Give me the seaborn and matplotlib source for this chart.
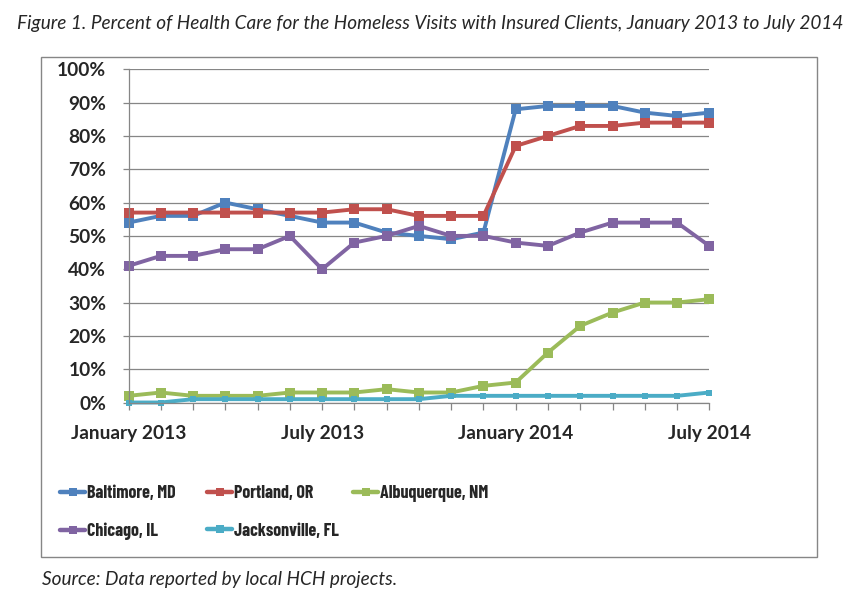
import matplotlib
matplotlib.use("Agg")
import matplotlib.pyplot as plt
from matplotlib.lines import Line2D
from matplotlib.patches import Rectangle
import seaborn as sns
import pandas as pd

# ---- data ----
months = list(range(19))  # Jan 2013 .. Jul 2014
tick_labels = ["January 2013", "", "", "", "", "", "July 2013", "", "", "", "", "",
               "January 2014", "", "", "", "", "", "July 2014"]
baltimore = [54, 56, 56, 60, 58, 56, 54, 54, 51, 50, 49, 51, 88, 89, 89, 89, 87, 86, 87]
portland = [57, 57, 57, 57, 57, 57, 57, 58, 58, 56, 56, 56, 77, 80, 83, 83, 84, 84, 84]
albuquerque = [2, 3, 2, 2, 2, 3, 3, 3, 4, 3, 3, 5, 6, 15, 23, 27, 30, 30, 31]
chicago = [41, 44, 44, 46, 46, 50, 40, 48, 50, 53, 50, 50, 48, 47, 51, 54, 54, 54, 47]
jacksonville = [0, 0, 1, 1, 1, 1, 1, 1, 1, 1, 2, 2, 2, 2, 2, 2, 2, 2, 3]

cities = ["Baltimore, MD", "Portland, OR", "Albuquerque, NM", "Chicago, IL", "Jacksonville, FL"]
series = [baltimore, portland, albuquerque, chicago, jacksonville]
colors = ["#4F81BD", "#C0504D", "#9BBB59", "#8064A2", "#4BACC6"]
msizes = [7, 7, 7, 7, 5]

rows = []
for c, vals in zip(cities, series):
    for m, v in zip(months, vals):
        rows.append({"city": c, "month": m, "value": v / 100})
df = pd.DataFrame(rows)

sns.set_theme(style="white")
plt.rcParams["font.family"] = ["Lato", "DejaVu Sans"]

W, H = 862, 614
fig = plt.figure(figsize=(W / 100, H / 100), dpi=100)
ax = fig.add_axes([128.5 / W, 1 - 402.5 / H, (709.3 - 128.5) / W, (402.5 - 69.3) / H])

grid_c = "#868686"
for c, col, ms in zip(cities, colors, msizes):
    sns.lineplot(data=df[df.city == c], x="month", y="value", color=col, ax=ax,
                 marker="s", markersize=ms, markeredgewidth=0, linewidth=2.8,
                 legend=False, clip_on=False)

ax.set_xlim(0, 18)
ax.set_ylim(0, 1)
ax.set_yticks([i / 10 for i in range(11)])
ax.set_yticklabels([f"{i * 10}%" for i in range(11)], fontsize=13.8, fontweight="bold")
ax.set_xticks(months)
ax.set_xticklabels(tick_labels, fontsize=13.8, fontweight="bold")
ax.set_xlabel("")
ax.set_ylabel("")
ax.yaxis.grid(True, color=grid_c, linewidth=0.9)
ax.xaxis.grid(False)
ax.set_axisbelow(True)
for s in ["top", "right"]:
    ax.spines[s].set_visible(False)
for s in ["left", "bottom"]:
    ax.spines[s].set_color(grid_c)
    ax.spines[s].set_linewidth(0.9)
ax.tick_params(axis="y", length=4, width=0.9, color=grid_c, pad=12, left=True)
ax.tick_params(axis="x", length=5, width=0.9, color=grid_c, pad=11, bottom=True)

# outer border
fig.patches.append(Rectangle((41 / W, 1 - 557 / H), (817 - 41) / W, (557 - 57) / H,
                             transform=fig.transFigure, fill=False,
                             edgecolor=grid_c, linewidth=1))

# title & source
fig.text(17 / W, 1 - 23 / H,
         "Figure 1. Percent of Health Care for the Homeless Visits with Insured Clients, January 2013 to July 2014",
         fontsize=13.7, style="italic", ha="left", va="center")
fig.text(42 / W, 1 - 580 / H, "Source: Data reported by local HCH projects.",
         fontsize=13.7, style="italic", ha="left", va="center")

# legend: one legend per column so columns sit at fixed positions
handles = {c: Line2D([0], [0], color=col, lw=3.2, marker="s", markersize=6, markeredgewidth=0)
           for c, col in zip(cities, colors)}
columns = [["Baltimore, MD", "Chicago, IL"], ["Portland, OR", "Jacksonville, FL"], ["Albuquerque, NM"]]
col_x = [60, 207, 353]
fs = 13
for xs, labs in zip(col_x, columns):
    fig.legend([handles[o] for o in labs], labs, loc="upper left",
               bbox_to_anchor=(xs / W, 1 - 485 / H), frameon=False,
               prop={"family": ["Barlow Condensed", "Barlow Semi Condensed", "Lato"],
                     "size": fs, "weight": "bold"},
               handlelength=1.4, handletextpad=0.12, labelspacing=1.15,
               borderpad=0, borderaxespad=0)

fig.savefig("out.png", dpi=100)
